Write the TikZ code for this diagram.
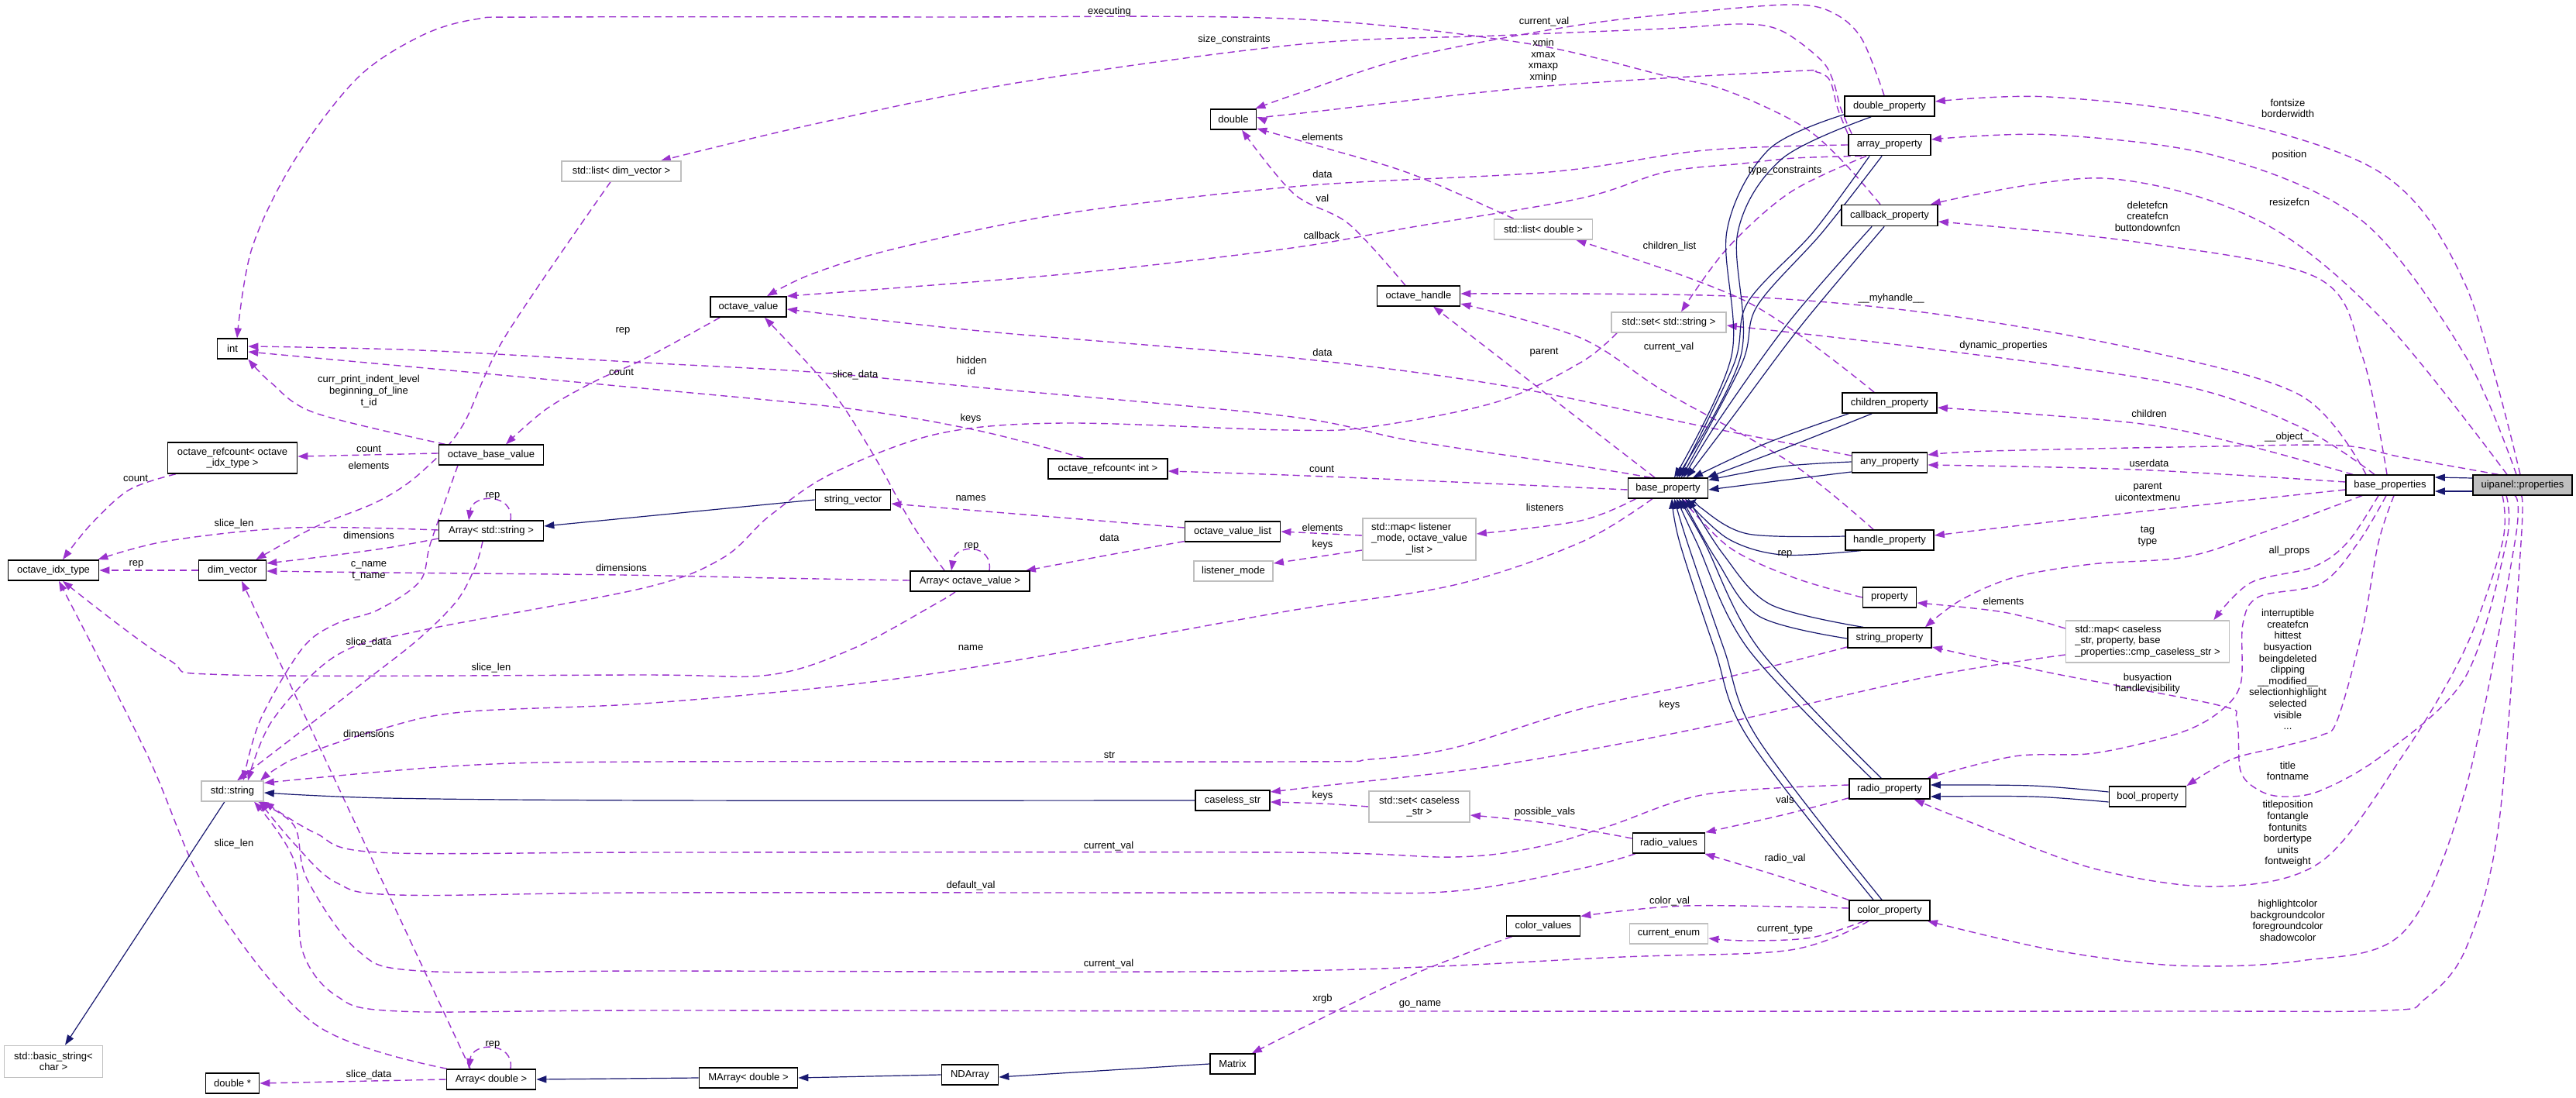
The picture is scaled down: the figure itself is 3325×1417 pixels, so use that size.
\documentclass[tikz,border=0pt]{standalone}
\usepackage{fontspec}
\setmainfont{Liberation Sans}
\usetikzlibrary{arrows.meta,calc}
\pgfdeclarelayer{back}
\pgfdeclarelayer{bg}
\pgfsetlayers{back,bg,main}
\definecolor{depc}{HTML}{9A32CD}
\definecolor{inhc}{HTML}{191970}
\definecolor{extg}{HTML}{BFBFBF}
\definecolor{fillg}{HTML}{BFBFBF}
\newcommand\dfont{\fontsize{6.5pt}{7.3pt}\selectfont}
\tikzset{
 box/.style={draw=black,line width=0.85pt,fill=white,inner sep=0pt,font=\dfont,align=center},
 extbox/.style={box,draw=extg},
 lbl/.style={inner sep=0pt,font=\dfont,align=center},
 dep/.style={draw=depc,line width=0.7pt,dash pattern=on 4.5pt off 2.8pt,-{Triangle[length=6.5pt,width=4.6pt]}},
 inh/.style={draw=inhc,line width=0.6pt,-{Triangle[length=6.5pt,width=4.6pt]}},
 sm/.style={smooth,tension=0.55},
}
\begin{document}
\begin{tikzpicture}[x=0.5pt,y=-0.5pt]
\begin{pgfonlayer}{back}
\fill[white] (0,0) rectangle (3325,1417);
\end{pgfonlayer}
\useasboundingbox (0,0) rectangle (3325,1417);
% ---------------- nodes ----------------
\node[box,minimum width=19.5pt,minimum height=12.75pt] (intT) at (300,450) {int};
\node[extbox,minimum width=77pt,minimum height=12.75pt] (stdlistdim) at (802,221) {std::list< dim\_vector >};
\node[box,minimum width=83.5pt,minimum height=20pt] (ovrefidx) at (300,591) {octave\_refcount< octave\\\_idx\_type >};
\node[box,minimum width=67.5pt,minimum height=12.75pt] (obv) at (634,587) {octave\_base\_value};
\node[box,minimum width=67.5pt,minimum height=12.75pt] (arrstr) at (634,685) {Array< std::string >};
\node[box,minimum width=58.5pt,minimum height=13pt] (oit) at (69,736) {octave\_idx\_type};
\node[box,minimum width=43.5pt,minimum height=13pt] (dimv) at (300,736) {dim\_vector};
\node[extbox,minimum width=40pt,minimum height=12.75pt] (stdstr) at (300,1021) {std::string};
\node[extbox,minimum width=63.5pt,minimum height=20.5pt] (basicstr) at (69,1370) {std::basic\_string<\\char >};
\node[box,minimum width=34.5pt,minimum height=12.75pt] (dblptr) at (300,1398) {double *};
\node[box,minimum width=57.5pt,minimum height=13pt] (arrdbl) at (634,1393) {Array< double >};
\node[box,minimum width=29.5pt,minimum height=13pt] (dbl) at (1592,154) {double};
\node[box,minimum width=49pt,minimum height=13pt] (ov) at (966,396) {octave\_value};
\node[box,minimum width=77pt,minimum height=13pt] (ovrefint) at (1430,605) {octave\_refcount< int >};
\node[box,minimum width=48.5pt,minimum height=12.75pt] (strvec) at (1101,645) {string\_vector};
\node[box,minimum width=61.5pt,minimum height=12.75pt] (ovl) at (1591,686) {octave\_value\_list};
\node[box,minimum width=77pt,minimum height=12.75pt] (arrov) at (1252,750) {Array< octave\_value >};
\node[extbox,minimum width=51pt,minimum height=12.75pt] (lmode) at (1592,737) {listener\_mode};
\node[box,minimum width=48pt,minimum height=12.75pt] (cstr) at (1591,1033) {caseless\_str};
\node[box,minimum width=63.5pt,minimum height=12.75pt] (marr) at (966,1391) {MArray< double >};
\node[box,minimum width=36.5pt,minimum height=12.75pt] (nda) at (1252,1387) {NDArray};
\node[box,minimum width=29pt,minimum height=12.75pt] (mtx) at (1591,1373) {Matrix};
\node[box,minimum width=58pt,minimum height=13pt] (dblprop) at (2439,137) {double\_property};
\node[box,minimum width=53pt,minimum height=13.5pt] (arrprop) at (2439,187) {array\_property};
\node[box,minimum width=62pt,minimum height=13.5pt] (cbprop) at (2439,278) {callback\_property};
\node[extbox,minimum width=63.5pt,minimum height=13pt] (stdlistdbl) at (1992,296) {std::list< double >};
\node[box,minimum width=53.5pt,minimum height=12.75pt] (oh) at (1831,382) {octave\_handle};
\node[extbox,minimum width=74pt,minimum height=12.75pt] (stdsetstr) at (2154,416) {std::set< std::string >};
\node[box,minimum width=61pt,minimum height=13pt] (chprop) at (2439,520) {children\_property};
\node[box,minimum width=48.5pt,minimum height=12.75pt] (anyprop) at (2439,597) {any\_property};
\node[box,minimum width=51.5pt,minimum height=12.75pt] (bprop) at (2153,630) {base\_property};
\node[box,minimum width=57pt,minimum height=12.75pt] (hprop) at (2439,697) {handle\_property};
\node[extbox,minimum width=73pt,minimum height=27pt] (stdmaplist) at (1832,696) {\begin{tabular}{@{}l@{}}std::map< listener\\\_mode, octave\_value\\\multicolumn{1}{@{}c@{}}{\_list >}\end{tabular}};
\node[box,minimum width=34.5pt,minimum height=12.75pt] (prop) at (2439,771) {property};
\node[box,minimum width=54pt,minimum height=12.75pt] (strprop) at (2439,823) {string\_property};
\node[box,minimum width=52pt,minimum height=13pt] (radprop) at (2439,1018) {radio\_property};
\node[extbox,minimum width=65pt,minimum height=20pt] (stdsetcs) at (1832,1041) {std::set< caseless\\\_str >};
\node[box,minimum width=46.5pt,minimum height=13pt] (radval) at (2154,1088) {radio\_values};
\node[box,minimum width=52pt,minimum height=12.75pt] (colprop) at (2439,1175) {color\_property};
\node[box,minimum width=47.5pt,minimum height=12.75pt] (colval) at (1992,1195) {color\_values};
\node[extbox,minimum width=50.5pt,minimum height=12.75pt] (curenum) at (2154,1205) {current\_enum};
\node[box,minimum width=57pt,minimum height=12.75pt] (bps) at (3085,626) {base\_properties};
\node[box,fill=fillg,minimum width=64pt,minimum height=12.75pt] (uip) at (3256,626) {uipanel::properties};
\node[extbox,minimum width=105.5pt,minimum height=27pt] (stdmapcs) at (2772,828) {\begin{tabular}{@{}l@{}}std::map< caseless\\\_str, property, base\\\_properties::cmp\_caseless\_str >\end{tabular}};
\node[box,minimum width=49.5pt,minimum height=13pt] (boolprop) at (2772,1028) {bool\_property};
% ---------------- labels ----------------
\node[lbl] (l1) at (1432,15) {executing};
\node[lbl] (l2) at (1593,51) {size\_constraints};
\node[lbl] (l3) at (1993,28) {current\_val};
\node[lbl] (l4) at (1992,78) {xmin\\xmax\\xmaxp\\xminp};
\node[lbl] (l5) at (1707,177) {elements};
\node[lbl] (l6) at (1707,225) {data};
\node[lbl] (l7) at (1707,256) {val};
\node[lbl] (l8) at (2304,220) {type\_constraints};
\node[lbl] (l9) at (1706,304) {callback};
\node[lbl] (l10) at (2155,318) {children\_list};
\node[lbl] (l11) at (2441,385) {\_\_myhandle\_\_};
\node[lbl] (l12) at (2154,448) {current\_val};
\node[lbl] (l13) at (2586,446) {dynamic\_properties};
\node[lbl] (l14) at (1993,455) {parent};
\node[lbl] (l15) at (1707,455) {data};
\node[lbl] (l16) at (804,427) {rep};
\node[lbl] (l17) at (802,480) {count};
\node[lbl] (l18) at (476,505) {curr\_print\_indent\_level\\beginning\_of\_line\\t\_id};
\node[lbl] (l19) at (1254,472) {hidden\\id};
\node[lbl] (l20) at (1104,484) {slice\_data};
\node[lbl] (l21) at (1253,540) {keys};
\node[lbl] (l22) at (476,579) {count};
\node[lbl] (l23) at (476,601) {elements};
\node[lbl] (l24) at (175,617) {count};
\node[lbl] (l25) at (1706,605) {count};
\node[lbl] (l26) at (636,640) {rep};
\node[lbl] (l27) at (1253,643) {names};
\node[lbl] (l28) at (1994,655) {listeners};
\node[lbl] (l29) at (302,676) {slice\_len};
\node[lbl] (l30) at (1707,681) {elements};
\node[lbl] (l31) at (476,691) {dimensions};
\node[lbl] (l32) at (1432,694) {data};
\node[lbl] (l33) at (1707,703) {keys};
\node[lbl] (l34) at (1254,705) {rep};
\node[lbl] (l35) at (176,728) {rep};
\node[lbl] (l36) at (476,737) {c\_name\\t\_name};
\node[lbl] (l37) at (802,733) {dimensions};
\node[lbl] (l38) at (2304,715) {rep};
\node[lbl] (l39) at (476,829) {slice\_data};
\node[lbl] (l40) at (1253,836) {name};
\node[lbl] (l41) at (634,862) {slice\_len};
\node[lbl] (l42) at (476,947) {dimensions};
\node[lbl] (l43) at (1432,974) {str};
\node[lbl] (l44) at (2155,910) {keys};
\node[lbl] (l45) at (1707,1027) {keys};
\node[lbl] (l46) at (1994,1048) {possible\_vals};
\node[lbl] (l47) at (2304,1032) {vals};
\node[lbl] (l48) at (302,1089) {slice\_len};
\node[lbl] (l49) at (1431,1092) {current\_val};
\node[lbl] (l50) at (2304,1108) {radio\_val};
\node[lbl] (l51) at (1253,1143) {default\_val};
\node[lbl] (l52) at (2155,1163) {color\_val};
\node[lbl] (l53) at (2304,1200) {current\_type};
\node[lbl] (l54) at (1431,1244) {current\_val};
\node[lbl] (l55) at (1707,1289) {xrgb};
\node[lbl] (l56) at (1833,1296) {go\_name};
\node[lbl] (l57) at (636,1348) {rep};
\node[lbl] (l58) at (476,1387) {slice\_data};
\node[lbl] (l59) at (2953,140) {fontsize\\borderwidth};
\node[lbl] (l60) at (2955,200) {position};
\node[lbl] (l61) at (2955,261) {resizefcn};
\node[lbl] (l62) at (2772,279) {deletefcn\\createfcn\\buttondownfcn};
\node[lbl] (l63) at (2774,534) {children};
\node[lbl] (l64) at (2955,564) {\_\_object\_\_};
\node[lbl] (l65) at (2774,598) {userdata};
\node[lbl] (l66) at (2772,635) {parent\\uicontextmenu};
\node[lbl] (l67) at (2772,692) {tag\\type};
\node[lbl] (l68) at (2955,711) {all\_props};
\node[lbl] (l69) at (2586,776) {elements};
\node[lbl] (l70) at (2953,864) {interruptible\\createfcn\\hittest\\busyaction\\beingdeleted\\clipping\\\_\_modified\_\_\\selectionhighlight\\selected\\visible\\...};
\node[lbl] (l71) at (2772,882) {busyaction\\handlevisibility};
\node[lbl] (l72) at (2953,995) {title\\fontname};
\node[lbl] (l73) at (2953,1076) {titleposition\\fontangle\\fontunits\\bordertype\\units\\fontweight};
\node[lbl] (l74) at (2953,1188) {highlightcolor\\backgroundcolor\\foregroundcolor\\shadowcolor};
% ---------------- edges ----------------
\begin{pgfonlayer}{bg}
% top
\draw[dep] plot[sm] coordinates {($(cbprop.north)+(-12,0)$) (2383,213) (2337,170) (2283,140) (2217,113) (2150,98) (1964,55) (1660,24) (1200,22) (700,22) (613,25) (542,47) (461,101) (380,207) (325,321) ($(intT.north)+(6,0)$)};
\draw[dep] plot[sm] coordinates {($(arrprop.north west)+(5,0)$) (2376,140) (2366,104) (2350,77) (2300,40) (2250,31) (2148,37) (1931,46) (1680,57) (1318,106) (1047,161) ($(stdlistdim.north east)+(-27,0)$)};
\draw[dep] plot[sm] coordinates {($(dblprop.north)+(-7,0)$) (2403,50) (2367,17) (2317,6) (2202,14) (2040,32) (1823,73) (1680,119) ($(dbl.north east)+(-2,0)$)};
\draw[dep] plot[sm] coordinates {(arrprop.north west) (2372,140) (2362,104) (2345,93) (2311,92) (1985,112) (1680,146) ($(dbl.east)+(0,-3)$)};
\draw[dep] plot[sm] coordinates {($(stdlistdbl.north west)+(26,0)$) (1823,225) (1714,192) ($(dbl.south east)+(0,-2)$)};
\draw[dep] plot[sm] coordinates {($(oh.north)+(-17,0)$) (1741,289) (1670,250) ($(dbl.south)+(11,0)$)};
\draw[dep] plot[sm] coordinates {(arrprop.west) (2200,194) (2000,222) (1680,240) (1372,276) (1155,321) (1047,354) ($(ov.north)+(24,0)$)};
\draw[dep] plot[sm] coordinates {($(arrprop.south west)+(18,0)$) (2317,204) (2250,211) (2150,222) (2040,256) (1823,293) (1660,321) (1372,354) (ov.north east)};
\draw[dep] plot[sm] coordinates {($(anyprop.west)+(0,-9)$) (2202,551) (1931,496) (1660,461) (1264,427) ($(ov.east)+(0,3)$)};
\draw[dep] plot[sm] coordinates {($(chprop.north)+(-20,0)$) (2256,390) ($(stdlistdbl.south east)+(-22,0)$)};
\draw[dep] plot[sm] coordinates {($(arrprop.south west)+(24,0)$) (2311,248) (2229,321) ($(stdsetstr.north)+(16,0)$)};
% base_properties / uipanel
\draw[dep] plot[sm] coordinates {($(uip.north)+(-3,0)$) (3182,367) (3076,225) (2863,152) (2644,125) ($(dblprop.east)+(0,-6)$)};
\draw[dep] plot[sm] coordinates {($(uip.north)+(-8,0)$) (3182,459) (3049,285) (2863,202) (2650,174) ($(arrprop.east)+(0,-7)$)};
\draw[dep] plot[sm] coordinates {($(uip.north)+(-20,0)$) (3076,413) (2916,285) (2714,230) ($(cbprop.north east)+(-10,0)$)};
\draw[dep] plot[sm] coordinates {($(bps.north)+(-4,0)$) (3049,459) (2990,358) (2756,312) ($(cbprop.east)+(0,8)$)};
\draw[dep] plot[sm] coordinates {($(bps.north)+(-31,0)$) (2969,510) (2756,450) (2490,404) (2230,382) ($(oh.east)+(0,-3)$)};
\draw[dep] plot[sm] coordinates {($(bps.north)+(-20,0)$) (2969,551) (2810,496) (2490,450) ($(stdsetstr.east)+(0,4)$)};
\draw[dep] plot[sm] coordinates {($(bps.north west)+(10,0)$) (2900,575) (2756,546) ($(chprop.east)+(0,6)$)};
\draw[dep] plot[sm] coordinates {($(uip.north)+(-31,0)$) (3100,590) (3022,575) (2863,576) (2570,582) ($(anyprop.east)+(0,-10)$)};
\draw[dep] plot[sm] coordinates {($(bps.west)+(0,-4)$) (2756,606) ($(anyprop.east)+(0,3)$)};
\draw[dep] plot[sm] coordinates {($(bps.west)+(0,6)$) (2756,661) ($(hprop.east)+(0,-6)$)};
\draw[dep] plot[sm] coordinates {($(bps.south)+(-36,0)$) (2916,689) (2820,719) (2700,728) (2600,745) (2530,775) ($(strprop.north east)+(-9,0)$)};
\draw[dep] plot[sm] coordinates {($(bps.south)+(-15,0)$) (3030,700) (2985,732) (2905,752) ($(stdmapcs.north east)+(-21,0)$)};
\draw[dep] plot[sm] coordinates {($(stdmapcs.west)+(0,-17)$) (2586,790) ($(prop.east)+(0,7)$)};
\draw[dep] plot[sm] coordinates {($(stdmapcs.west)+(0,17)$) (2490,873) (2202,938) (1931,988) (1700,1015) ($(cstr.east)+(0,-11)$)};
\draw[dep] plot[sm] coordinates {($(bps.south)+(-5,0)$) (3044,700) (2996,753) (2916,770) (2895,805) (2892,883) (2863,920) (2810,947) (2703,972) (2600,976) ($(radprop.north east)+(-4,0)$)};
\draw[dep] plot[sm] coordinates {($(bps.south)+(5,0)$) (3070,700) (3049,814) (3017,929) (2996,949) (2943,964) (2880,980) (boolprop.north east)};
\draw[dep] plot[sm] coordinates {($(uip.south)+(-21,0)$) (3235,700) (3182,874) (3076,974) (2996,1020) (2948,1028) (2916,1020) (2892,995) (2887,929) (2863,910) (2650,869) ($(strprop.east)+(0,12)$)};
\draw[dep] plot[sm] coordinates {($(uip.south)+(-26,0)$) (3230,700) (3182,837) (3102,974) (2996,1112) (2863,1144) (2703,1121) (2543,1061) ($(radprop.south east)+(-21,0)$)};
\draw[dep] plot[sm] coordinates {($(uip.south)+(-10,0)$) (3246,700) (3182,1020) (3102,1203) (2969,1240) (2810,1246) (2650,1226) ($(colprop.south east)+(-4,0)$)};
\draw[dep] plot[sm] coordinates {($(uip.south)+(-2,0)$) (3254,700) (3225,1066) (3182,1226) (3129,1290) (3080,1304) (2800,1305) (1833,1305) (850,1304) (515,1305) (434,1285) (390,1226) (380,1112) ($(stdstr.south)+(28,0)$)};
% to std::string
\draw[dep] plot[sm] coordinates {($(strprop.west)+(0,12)$) (2229,874) (2040,915) (1877,965) (1768,980) (1660,983) (850,983) (596,988) ($(stdstr.north east)+(0,3)$)};
\draw[dep] plot[sm] coordinates {($(bprop.south)+(-20,0)$) (2040,700) (1877,755) (1660,789) (1318,851) (1101,883) (830,908) (596,919) (488,942) (380,979) ($(stdstr.north)+(36,0)$)};
\draw[dep] plot[sm] coordinates {($(stdsetstr.south west)+(8,0)$) (2040,468) (1931,519) (1768,551) (1660,555) (1372,546) (1210,560) (1074,611) (993,666) (933,720) (830,759) (542,814) (434,846) (352,929) ($(stdstr.north)+(20,0)$)};
\draw[dep] plot[sm] coordinates {($(radprop.west)+(0,-5)$) (2202,1025) (2077,1066) (1985,1093) (1877,1106) (1660,1100) (850,1100) (488,1100) (407,1075) (stdstr.south east)};
\draw[dep] plot[sm] coordinates {($(radval.south west)+(4,0)$) (2040,1121) (1877,1150) (1660,1152) (850,1152) (515,1155) (434,1139) (380,1089) ($(stdstr.south east)+(-6,0)$)};
\draw[dep] plot[sm] coordinates {($(colprop.south west)+(26,0)$) (2311,1226) (2094,1235) (1660,1253) (850,1253) (542,1253) (461,1226) (396,1134) (380,1066) ($(stdstr.south)+(33,0)$)};
\draw[dep] plot[sm] coordinates {($(obv.south)+(-43,0)$) (556,700) (542,750) (488,787) (434,805) (390,837) (336,929) ($(stdstr.north)+(14,0)$)};
\draw[dep] plot[sm] coordinates {($(arrstr.south)+(-11,0)$) (614,730) (590,775) (540,825) (470,880) (400,935) ($(stdstr.north)+(6,0)$)};
% colour / radio
\draw[dep] plot[sm] coordinates {($(colval.south west)+(8,0)$) (1823,1258) (1680,1327) ($(mtx.north east)+(-5,0)$)};
\draw[dep] plot[sm] coordinates {($(colprop.west)+(0,-3)$) (2175,1169) ($(colval.north east)+(0,1)$)};
\draw[dep] plot[sm] coordinates {($(colprop.south west)+(20,0)$) (2338,1210) (2256,1214) ($(curenum.east)+(0,6)$)};
\draw[dep] plot[sm] coordinates {(colprop.north west) (2300,1132) ($(radval.south east)+(-1,0)$)};
\draw[dep] plot[sm] coordinates {($(radprop.south west)+(0,-2)$) (2300,1052) (radval.north east)};
\draw[dep] plot[sm] coordinates {($(radval.west)+(0,-6)$) (1994,1062) ($(stdsetcs.east)+(0,11)$)};
\draw[dep] plot[sm] coordinates {(stdsetcs.west) (1707,1037) ($(cstr.east)+(0,2)$)};
% arrays
\draw[dep] (arrdbl.west) -- (dblptr.east);
\draw[dep] ($(arrdbl.north)+(-27,0)$) -- ($(dimv.south)+(12,0)$);
\draw[dep] plot[sm] coordinates {($(arrdbl.north west)+(1,0)$) (407,1322) (271,1157) (190,974) ($(oit.south)+(7,0)$)};
\draw[dep] ($(arrdbl.north)+(25,0)$) .. controls +(5,-35) and +(5,-35) .. ($(arrdbl.north)+(-29,0)$);
\draw[dep] ($(arrstr.north)+(25,0)$) .. controls +(5,-35) and +(5,-35) .. ($(arrstr.north)+(-29,0)$);
\draw[dep] ($(arrov.north)+(25,0)$) .. controls +(5,-35) and +(5,-35) .. ($(arrov.north)+(-24,0)$);
\draw[dep] plot[sm] coordinates {($(arrstr.west)+(0,-1)$) (380,681) (217,698) ($(oit.north east)+(-2,0)$)};
\draw[dep] plot[sm] coordinates {($(arrstr.west)+(0,10)$) (500,707) (420,718) ($(dimv.east)+(0,-9)$)};
\draw[dep] plot[sm] coordinates {($(arrov.west)+(0,-1)$) (1000,746) (802,742) (500,739) ($(dimv.east)+(0,1)$)};
\draw[dep] plot[sm] coordinates {($(arrov.south west)+(59,0)$) (1210,778) (1101,837) (993,871) (830,871) (298,871) (217,851) ($(oit.south)+(12,0)$)};
\draw[dep] plot[sm] coordinates {($(stdlistdim.south west)+(64,0)$) (651,436) (596,551) (542,611) (488,647) (407,680) ($(dimv.north east)+(-14,0)$)};
\draw[dep] (dimv.west) -- (oit.east);
\draw[dep] plot[sm] coordinates {($(ovrefidx.south west)+(11,0)$) (167,632) (117,677) ($(oit.north)+(12,0)$)};
\draw[dep] ($(obv.west)+(0,-2)$) -- ($(ovrefidx.east)+(0,-2)$);
\draw[dep] plot[sm] coordinates {($(obv.north west)+(9,0)$) (407,533) (350,494) (intT.south east)};
\draw[dep] plot[sm] coordinates {($(ov.south west)+(13,0)$) (830,464) (770,491) (705,528) ($(obv.north)+(19,0)$)};
\draw[dep] plot[sm] coordinates {($(ovrefint.north west)+(46,0)$) (1264,556) (1101,528) (850,503) ($(intT.east)+(0,4)$)};
\draw[dep] plot[sm] coordinates {($(bprop.north)+(-22,0)$) (2050,603) (1823,569) (1660,537) (1264,500) (1047,480) (830,468) (542,452) ($(intT.east)+(0,-3)$)};
\draw[dep] plot[sm] coordinates {($(bprop.west)+(0,2)$) (1877,622) (1660,613) ($(ovrefint.east)+(0,3)$)};
\draw[dep] ($(bprop.north)+(-17,0)$) -- ($(oh.south)+(19,0)$);
\draw[dep] plot[sm] coordinates {($(hprop.north west)+(37,0)$) (2311,597) (2148,505) (2040,436) ($(oh.east)+(0,10)$)};
\draw[dep] plot[sm] coordinates {($(bprop.south west)+(11,0)$) (2040,672) ($(stdmaplist.east)+(0,-7)$)};
\draw[dep] ($(stdmaplist.west)+(0,-5)$) -- (ovl.east);
\draw[dep] ($(stdmaplist.west)+(0,14)$) -- ($(lmode.east)+(0,-10)$);
\draw[dep] ($(ovl.west)+(0,-5)$) -- ($(strvec.east)+(0,5)$);
\draw[dep] plot[sm] coordinates {($(ovl.south west)+(0,-1)$) (1432,716) ($(arrov.north east)+(-6,0)$)};
\draw[dep] plot[sm] coordinates {($(arrov.north west)+(45,0)$) (1193,700) (1171,666) (1128,588) (1074,505) ($(ov.south)+(21,0)$)};
\draw[dep] plot[sm] coordinates {(prop.west) (2317,746) (2233,707) ($(bprop.south)+(18,0)$)};
% ---------------- inheritance ----------------
\draw[inh] plot[sm] coordinates {(cstr.west) (850,1033) (500,1030) ($(stdstr.east)+(0,2)$)};
\draw[inh] ($(stdstr.south)+(-10,0)$) -- ($(basicstr.north)+(15,0)$);
\draw[inh] (strvec.west) -- ($(arrstr.east)+(0,-6)$);
\draw[inh] (marr.west) -- (arrdbl.east);
\draw[inh] (nda.west) -- (marr.east);
\draw[inh] (mtx.west) -- ($(nda.east)+(0,3)$);
\draw[inh] ($(uip.west)+(0,-9)$) -- ($(bps.east)+(0,-10)$);
\draw[inh] ($(uip.west)+(0,8)$) -- ($(bps.east)+(0,8)$);
\draw[inh] plot[sm] coordinates {($(boolprop.west)+(0,-6)$) (2623,1014) ($(radprop.east)+(0,-5)$)};
\draw[inh] plot[sm] coordinates {($(boolprop.west)+(0,7)$) (2623,1028) ($(radprop.east)+(0,10)$)};
% into base_property
\draw[inh] plot[sm] coordinates {($(dblprop.south west)+(0,-3)$) (2283,193) (2229,298) (2235,459) ($(bprop.north)+(8,0)$)};
\draw[inh] plot[sm] coordinates {($(dblprop.south west)+(35,0)$) (2300,205) (2243,300) (2247,459) ($(bprop.north)+(11,0)$)};
\draw[inh] plot[sm] coordinates {($(arrprop.south west)+(28,0)$) (2340,300) (2256,390) (2238,470) ($(bprop.north)+(14,0)$)};
\draw[inh] plot[sm] coordinates {($(arrprop.south west)+(44,0)$) (2352,300) (2268,395) (2248,470) ($(bprop.north)+(17,0)$)};
\draw[inh] plot[sm] coordinates {($(cbprop.south west)+(40,0)$) (2311,413) (2220,540) ($(bprop.north)+(20,0)$)};
\draw[inh] plot[sm] coordinates {($(cbprop.south west)+(56,0)$) (2325,420) (2235,540) ($(bprop.north)+(24,0)$)};
\draw[inh] plot[sm] coordinates {($(chprop.south west)+(9,0)$) (2280,572) ($(bprop.north)+(32,0)$)};
\draw[inh] plot[sm] coordinates {($(chprop.south west)+(39,0)$) (2300,580) ($(bprop.north east)+(-2,0)$)};
\draw[inh] plot[sm] coordinates {($(anyprop.west)+(0,-1)$) (2300,602) ($(bprop.north east)+(0,3)$)};
\draw[inh] plot[sm] coordinates {($(anyprop.west)+(0,12)$) (2300,620) ($(bprop.east)+(0,2)$)};
\draw[inh] plot[sm] coordinates {($(hprop.west)+(0,-5)$) (2256,689) (2195,655) ($(bprop.south)+(37,0)$)};
\draw[inh] plot[sm] coordinates {($(hprop.south west)+(21,0)$) (2300,716) (2230,695) ($(bprop.south)+(22,0)$)};
\draw[inh] plot[sm] coordinates {($(strprop.west)+(0,1)$) (2270,795) (2214,720) ($(bprop.south)+(18,0)$)};
\draw[inh] plot[sm] coordinates {($(strprop.north west)+(21,0)$) (2285,780) (2224,715) ($(bprop.south)+(26,0)$)};
\draw[inh] plot[sm] coordinates {($(radprop.north west)+(29,0)$) (2256,837) (2190,700) ($(bprop.south)+(11,0)$)};
\draw[inh] plot[sm] coordinates {($(radprop.north west)+(42,0)$) (2270,837) (2200,700) ($(bprop.south)+(14,0)$)};
\draw[inh] plot[sm] coordinates {($(colprop.north west)+(32,0)$) (2256,952) (2213,837) (2168,700) ($(bprop.south)+(5,0)$)};
\draw[inh] plot[sm] coordinates {($(colprop.north west)+(43,0)$) (2268,952) (2225,837) (2178,700) ($(bprop.south)+(8,0)$)};
\end{pgfonlayer}
\end{tikzpicture}
\end{document}
